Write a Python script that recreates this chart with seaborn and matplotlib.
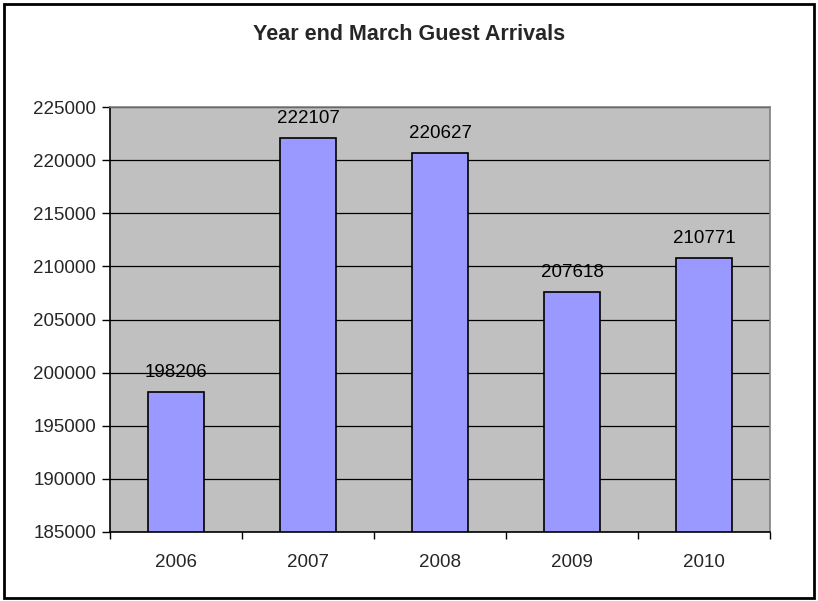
import matplotlib
matplotlib.use("Agg")
import matplotlib.pyplot as plt
import seaborn as sns
import pandas as pd
from matplotlib.patches import Rectangle

years = ["2006", "2007", "2008", "2009", "2010"]
arrivals = [198206, 222107, 220627, 207618, 210771]
yticks = [185000, 190000, 195000, 200000, 205000, 210000, 215000, 220000, 225000]

sns.set_theme(style="white")
plt.rcParams['font.family'] = ['Liberation Sans', 'DejaVu Sans']

df = pd.DataFrame({"year": years, "arrivals": arrivals})

fig = plt.figure(figsize=(8.18, 6.01), dpi=100)
ax = fig.add_axes([110/818, 1-532/601, 660/818, 425/601])
ax.set_facecolor("#C0C0C0")

sns.barplot(data=df, x="year", y="arrivals", ax=ax, color="#9999FF",
            width=0.42, edgecolor="black", linewidth=1.2, saturation=1)
for b in ax.patches:
    b.set_facecolor("#9999FF")

fs = 13.5
ax.set_ylim(185000, 225000)
ax.set_xlim(-0.5, 4.5)
ax.set_yticks(yticks)
ax.set_yticklabels([str(v) for v in yticks], fontsize=fs)
ax.set_xticks(range(len(years)))
ax.set_xticklabels(years, fontsize=fs)
ax.set_xlabel("")
ax.set_ylabel("")
ax.grid(axis="y", color="black", linewidth=0.9)
ax.set_axisbelow(True)

# category boundary ticks on x
ax.tick_params(axis="x", length=0, pad=16)
ax.set_xticks([i - 0.5 for i in range(len(years) + 1)], minor=True)
ax.tick_params(axis="x", which="minor", length=5, width=1, color="black", direction="out", bottom=True)
ax.tick_params(axis="y", length=6, width=1, color="black", direction="out", left=True, pad=4)

for s in ["left", "bottom"]:
    ax.spines[s].set_color("black")
    ax.spines[s].set_linewidth(1.2)
for s in ["top", "right"]:
    ax.spines[s].set_color("#808080")
    ax.spines[s].set_linewidth(1.2)

for i, v in enumerate(arrivals):
    ax.annotate(str(v), (i, v), xytext=(0, 8), textcoords="offset points",
                ha="center", va="bottom", fontsize=fs, color="black")

fig.text(0.5, 1 - 34/601, "Year end March Guest Arrivals", ha="center", va="center",
         fontsize=15.5, fontweight="bold")

fig.patches.append(Rectangle((4/818, 3/601), 810/818, 594/601, transform=fig.transFigure,
                             fill=False, edgecolor="black", linewidth=2))

fig.savefig("out.png", dpi=100)
